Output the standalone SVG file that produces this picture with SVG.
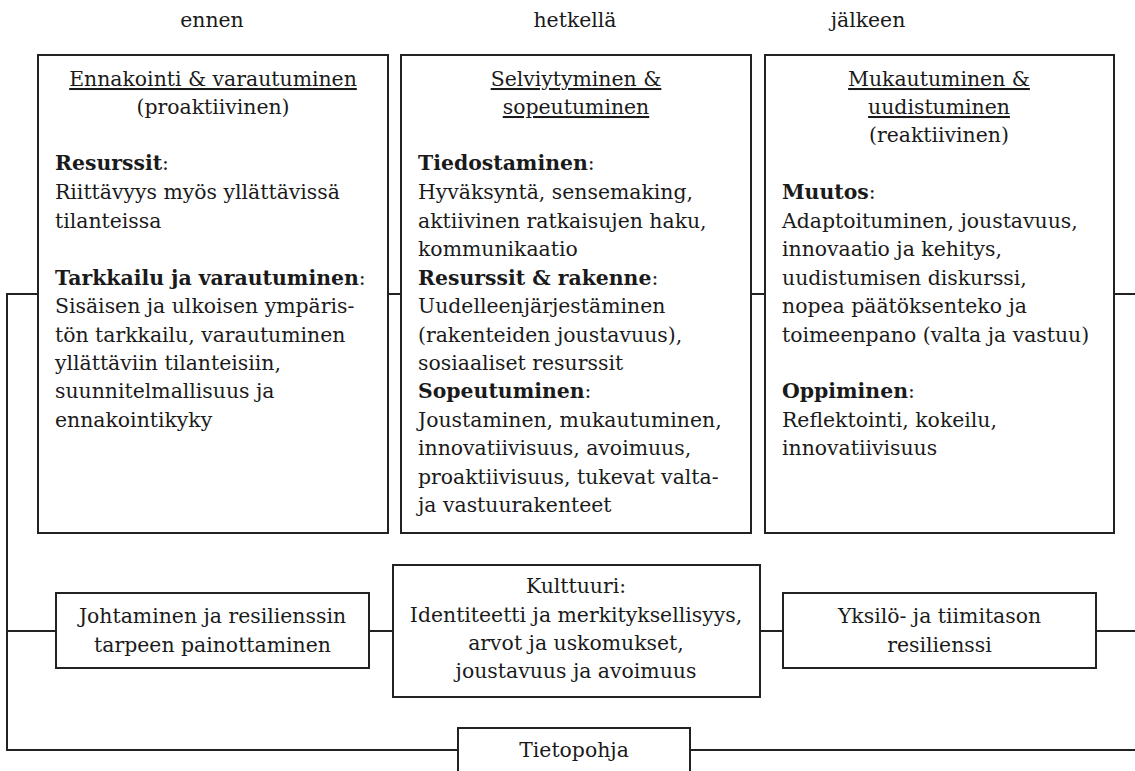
<svg xmlns="http://www.w3.org/2000/svg" width="1135" height="771" viewBox="0 0 1135 771">
<style>
text{font-family:"DejaVu Serif","Liberation Serif",serif;font-size:20.4px;fill:#1a1a1a}
.c{text-anchor:middle}
.u{text-decoration:underline}
.b{font-weight:bold}
.box{fill:#fff;stroke:#222;stroke-width:2}
.ln{fill:none;stroke:#222;stroke-width:2}
</style>
<rect width="1135" height="771" fill="#fff"/>
<g id="headers">
<text class="c" x="212" y="27">ennen</text>
<text class="c" x="575" y="27">hetkellä</text>
<text class="c" x="868" y="27">jälkeen</text>
</g>
<g id="connectors">
<path class="ln" d="M7,294 H38 M388,294 H401 M751,294 H765 M1114,294 H1135"/>
<path class="ln" d="M7,293 V751"/>
<path class="ln" d="M7,631 H56 M369,631 H393 M760,631 H783 M1096,631 H1135"/>
<path class="ln" d="M7,750 H458 M690,750 H1135"/>
</g>
<g id="box-ennakointi">
<rect class="box" x="38" y="55" width="350" height="478"/>
<text class="c u" x="213" y="86">Ennakointi &amp; varautuminen</text>
<text class="c" x="213" y="114">(proaktiivinen)</text>
<text x="55" y="170"><tspan class="b">Resurssit</tspan>:</text>
<text x="55" y="199">Riittävyys myös yllättävissä</text>
<text x="55" y="228">tilanteissa</text>
<text x="55" y="285"><tspan class="b">Tarkkailu ja varautuminen</tspan>:</text>
<text x="55" y="313">Sisäisen ja ulkoisen ympäris-</text>
<text x="55" y="342">tön tarkkailu, varautuminen</text>
<text x="55" y="370">yllättäviin tilanteisiin,</text>
<text x="55" y="398">suunnitelmallisuus ja</text>
<text x="55" y="427">ennakointikyky</text>
</g>
<g id="box-selviytyminen">
<rect class="box" x="401" y="55" width="350" height="478"/>
<text class="c u" x="576" y="86">Selviytyminen &amp;</text>
<text class="c u" x="576" y="114">sopeutuminen</text>
<text x="418" y="170"><tspan class="b">Tiedostaminen</tspan>:</text>
<text x="418" y="199">Hyväksyntä, sensemaking,</text>
<text x="418" y="228">aktiivinen ratkaisujen haku,</text>
<text x="418" y="256">kommunikaatio</text>
<text x="418" y="285"><tspan class="b">Resurssit &amp; rakenne</tspan>:</text>
<text x="418" y="313">Uudelleenjärjestäminen</text>
<text x="418" y="342">(rakenteiden joustavuus),</text>
<text x="418" y="370">sosiaaliset resurssit</text>
<text x="418" y="398"><tspan class="b">Sopeutuminen</tspan>:</text>
<text x="418" y="427">Joustaminen, mukautuminen,</text>
<text x="418" y="455">innovatiivisuus, avoimuus,</text>
<text x="418" y="484">proaktiivisuus, tukevat valta-</text>
<text x="418" y="512">ja vastuurakenteet</text>
</g>
<g id="box-mukautuminen">
<rect class="box" x="765" y="55" width="349" height="478"/>
<text class="c u" x="939" y="86">Mukautuminen &amp;</text>
<text class="c u" x="939" y="114">uudistuminen</text>
<text class="c" x="939" y="142">(reaktiivinen)</text>
<text x="782" y="199"><tspan class="b">Muutos</tspan>:</text>
<text x="782" y="228">Adaptoituminen, joustavuus,</text>
<text x="782" y="256">innovaatio ja kehitys,</text>
<text x="782" y="285">uudistumisen diskurssi,</text>
<text x="782" y="313">nopea päätöksenteko ja</text>
<text x="782" y="342">toimeenpano (valta ja vastuu)</text>
<text x="782" y="398"><tspan class="b">Oppiminen</tspan>:</text>
<text x="782" y="427">Reflektointi, kokeilu,</text>
<text x="782" y="455">innovatiivisuus</text>
</g>
<g id="box-johtaminen">
<rect class="box" x="56" y="593" width="313" height="75"/>
<text class="c" x="212.5" y="623">Johtaminen ja resilienssin</text>
<text class="c" x="212.5" y="652">tarpeen painottaminen</text>
</g>
<g id="box-kulttuuri">
<rect class="box" x="393" y="565" width="367" height="132"/>
<text class="c" x="576" y="593">Kulttuuri:</text>
<text class="c" x="576" y="622">Identiteetti ja merkityksellisyys,</text>
<text class="c" x="576" y="650">arvot ja uskomukset,</text>
<text class="c" x="576" y="678">joustavuus ja avoimuus</text>
</g>
<g id="box-yksilo">
<rect class="box" x="783" y="593" width="313" height="75"/>
<text class="c" x="939.5" y="623">Yksilö- ja tiimitason</text>
<text class="c" x="939.5" y="652">resilienssi</text>
</g>
<g id="box-tietopohja">
<rect class="box" x="458" y="728" width="232" height="60"/>
<text class="c" x="574" y="757">Tietopohja</text>
</g>
</svg>
